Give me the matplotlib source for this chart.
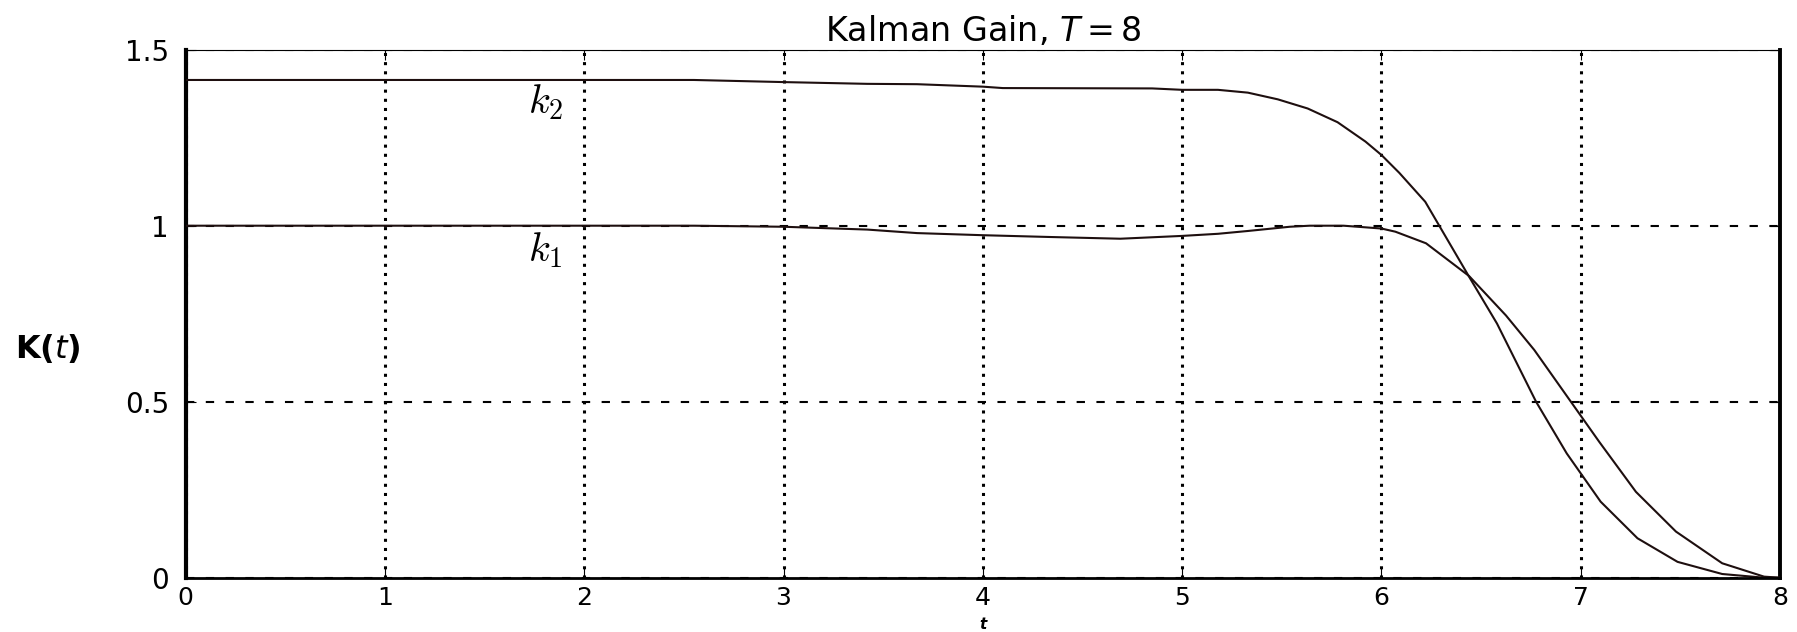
import matplotlib
matplotlib.use("Agg")
import matplotlib.pyplot as plt

# ---- data ----
t_k1 = [0, 2.55, 3.0, 3.42, 3.67, 4.0, 4.33, 4.69, 5.0, 5.18, 5.33, 5.54, 5.64, 5.81,
        6.0, 6.07, 6.224, 6.44, 6.625, 6.767, 7.093, 7.277, 7.478, 7.71, 7.92, 8.0]
k1 = [1.0, 1.0, 0.997, 0.989, 0.979, 0.973, 0.968, 0.963, 0.971, 0.977, 0.985, 0.997, 1.0, 1.0,
      0.992, 0.983, 0.950, 0.857, 0.745, 0.647, 0.386, 0.244, 0.131, 0.041, 0.003, 0.0]

t_k2 = [0, 2.55, 3.0, 3.42, 3.67, 4.0, 4.1, 4.85, 5.0, 5.18, 5.33, 5.48, 5.63, 5.78, 5.92,
        6.0, 6.09, 6.22, 6.44, 6.58, 6.776, 6.93, 7.10, 7.285, 7.486, 7.71, 7.92, 8.0]
k2 = [1.414, 1.414, 1.408, 1.403, 1.402, 1.395, 1.391, 1.390, 1.386, 1.386, 1.378, 1.359, 1.333,
      1.294, 1.239, 1.201, 1.150, 1.068, 0.855, 0.722, 0.50, 0.353, 0.216, 0.112, 0.045, 0.0105,
      0.0, 0.0]

x_ticks = [0, 1, 2, 3, 4, 5, 6, 7, 8]
x_labels = ["0", "1", "2", "3", "4", "5", "6", "7", "8"]
y_ticks = [0, 0.5, 1.0, 1.5]
y_labels = ["0", "0.5", "1", "1.5"]

title = "Kalman Gain, $T = 8$"

plt.rcParams["font.family"] = ["DejaVu Sans"]

W, H = 1797, 632
fig = plt.figure(figsize=(W / 100, H / 100), dpi=100)
L, R, T, B = 185.6, 1780.0, 49.7, 577.7
ax = fig.add_axes([L / W, 1 - B / H, (R - L) / W, (B - T) / H])

line_col = "#1e0f0f"
ax.plot(t_k1, k1, color=line_col, lw=1.5, zorder=3)
ax.plot(t_k2, k2, color=line_col, lw=1.5, zorder=3)

ax.set_xlim(0, 8)
ax.set_ylim(0, 1.5)
ax.set_xticks(x_ticks)
ax.set_xticklabels(x_labels)
ax.set_yticks(y_ticks)
ax.set_yticklabels(y_labels)

ax.tick_params(axis="both", direction="in", length=7, width=0.8,
               top=True, right=True, colors="black")
ax.tick_params(axis="x", pad=6, labelsize=18)
ax.tick_params(axis="y", pad=12, labelsize=20)

ax.grid(axis="x", color="black", linestyle=(0, (1, 2)), linewidth=2.2)
ax.grid(axis="y", color="black", linestyle=(0, (4, 5.5)), linewidth=1.5)

ax.spines["left"].set_linewidth(3.0)
ax.spines["right"].set_linewidth(2.8)
ax.spines["bottom"].set_linewidth(2.0)
ax.spines["top"].set_linewidth(0.8)
ax.spines["bottom"].set_zorder(4)

ax.set_title(title, fontsize=24, pad=6, math_fontfamily="dejavusans")

ax.text(1.717, 1.319, r"$k_2$", fontsize=29, math_fontfamily="cm",
        ha="left", va="baseline")
ax.text(1.717, 0.898, r"$k_1$", fontsize=29, math_fontfamily="cm",
        ha="left", va="baseline")

fig.text(15 / W, 1 - 349 / H, r"$\mathbf{K(}\mathit{t}\mathbf{)}$", fontsize=23,
         math_fontfamily="dejavusans", ha="left", va="center")
fig.text(983 / W, 0.0, "t", fontsize=11, fontweight="bold", fontstyle="italic",
         ha="center", va="bottom")

fig.savefig("out.png", dpi=100)
